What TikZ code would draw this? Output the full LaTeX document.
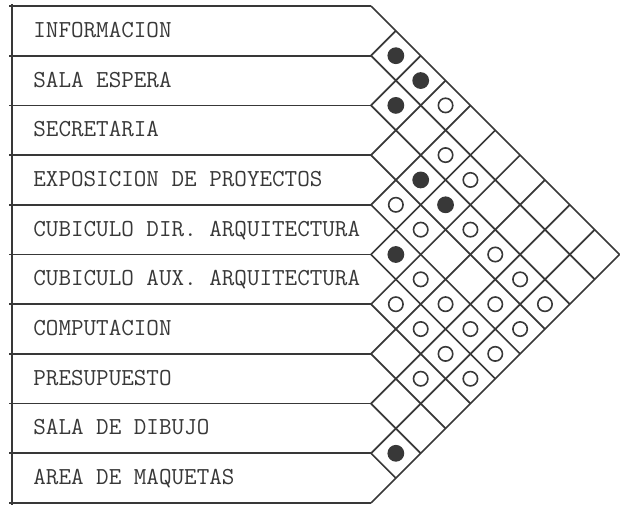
\documentclass[tikz,border=0pt]{standalone}
\definecolor{ink}{HTML}{383838}

\begin{document}
\begin{tikzpicture}[x=0.5pt, y=-0.5pt,
  grid/.style={draw=ink, line width=0.85pt, line join=miter},
  lbl/.style={anchor=base west, inner sep=0pt, font=\ttfamily\fontsize{12.2}{14}\selectfont, text=ink},
  dot/.style={circle, fill=ink, inner sep=0pt, minimum size=8.4pt},
  ring/.style={circle, draw=ink, line width=0.8pt, inner sep=0pt, minimum size=7.2pt}]
\useasboundingbox (0,0) rectangle (620,507);
% row boundaries and their tips
\foreach \k in {0,...,10} \coordinate (b\k) at (371,{6+\k*49.7});
\draw[grid] (12,4) -- (12,505);
\foreach \k in {0,...,10} {
  \draw[grid] (9,{6+\k*49.7}) -- (b\k);
  \draw[grid] (b\k) -- ++({(10-\k)*24.85},{(10-\k)*24.85});
  \draw[grid] (b\k) -- ++({\k*24.85},{-\k*24.85});
}
% rooms
\foreach \txt [count=\i] in {INFORMACION, SALA ESPERA, SECRETARIA, EXPOSICION DE PROYECTOS,
  CUBICULO DIR. ARQUITECTURA, CUBICULO AUX. ARQUITECTURA, COMPUTACION, PRESUPUESTO,
  SALA DE DIBUJO, AREA DE MAQUETAS}
  \node[lbl] (room\i) at (33,{6+(\i-0.5)*49.7+6.5}) {\txt};
% relations
\foreach \i/\j in {1/2,1/3,2/3,3/5,3/6,5/6,9/10}
  \node[dot] (c\i-\j) at ({371+(\j-\i)*24.85},{6+(\i+\j-1)*24.85}) {};
\foreach \i/\j in {1/4,2/5,2/6,4/5,4/6,3/7,3/8,5/7,3/9,6/7,5/8,4/9,3/10,6/8,5/9,4/10,6/9,5/10,7/9,6/10}
  \node[ring] (c\i-\j) at ({371+(\j-\i)*24.85},{6+(\i+\j-1)*24.85}) {};
\end{tikzpicture}
\end{document}
